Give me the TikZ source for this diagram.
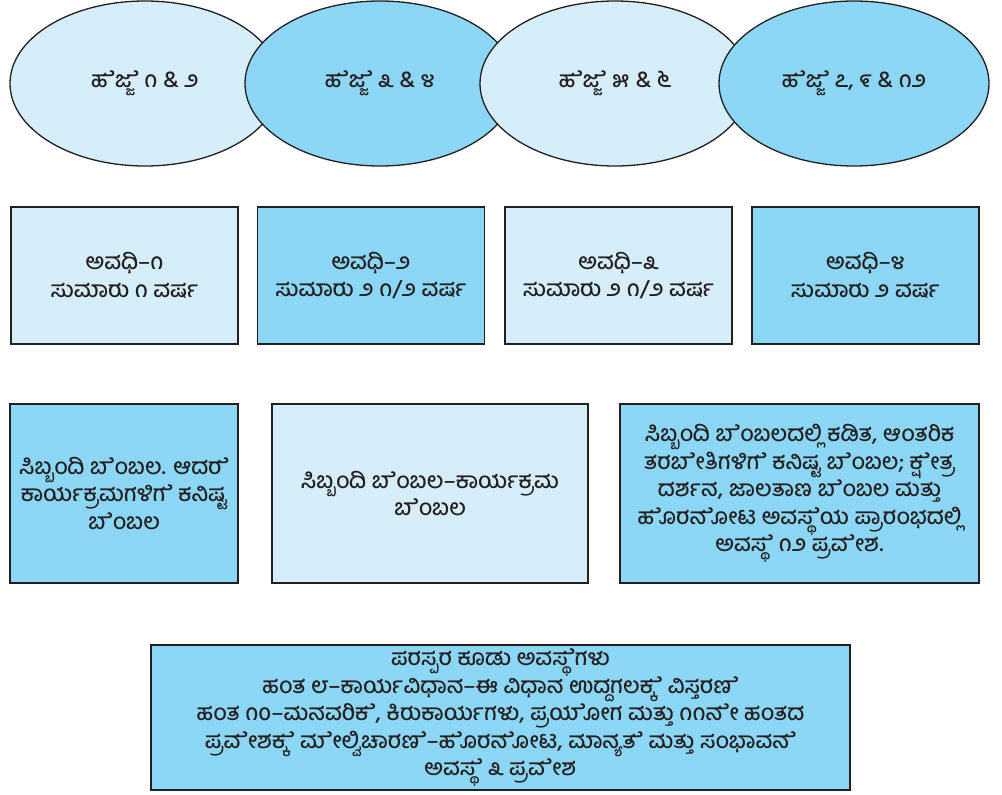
\documentclass[tikz,border=0pt]{standalone}
\usepackage{fontspec}
\newfontfamily\kn[Script=Kannada]{Hind Mysuru Medium}
\usetikzlibrary{shapes.geometric}
\definecolor{lightfill}{HTML}{D6EDFA}
\definecolor{darkfill}{HTML}{8DD7F6}
\definecolor{ink}{HTML}{231F20}
% vowel signs e / ee / o / oo written after a zero-width joiner so that the hook is drawn
\newcommand\kE{^^^^200dೆ}
\newcommand\kEE{^^^^200dೇ}
\newcommand\kO{^^^^200dೊ}
\newcommand\kOO{^^^^200dೋ}
% vowel sign after a conjunct: set on a no-break-space base, pulled back
\newcommand\kC[1]{\setbox0\hbox{^^^^00a0}\kern-\wd0\hbox{^^^^00a0#1}}
\tikzset{
  knfont/.style={font=\kn\fontsize{22.5}{27.5}\selectfont, text=ink},
  phase/.style={ellipse, draw=ink, line width=1.3pt, minimum width=270pt, minimum height=165pt, inner sep=0pt, knfont},
  card/.style={rectangle, draw=ink, line width=1.5pt, inner sep=0pt, align=center, knfont},
  period/.style={card, minimum width=227pt, minimum height=137pt},
  light/.style={fill=lightfill},
  dark/.style={fill=darkfill}
}
\begin{document}
\begin{tikzpicture}[x=1pt,y=-1pt]
\useasboundingbox (0,0) rectangle (1002,795);
\node[phase, light] (e1) at (145,83.5) {ಹ\kE ಜ್ಜ\kC{ೆ} ೧ \& ೨};
\node[phase, dark]  (e2) at (380,83.5) {ಹ\kE ಜ್ಜ\kC{ೆ} ೩ \& ೪};
\node[phase, light] (e3) at (615,83.5) {ಹ\kE ಜ್ಜ\kC{ೆ} ೫ \& ೬};
\node[phase, dark]  (e4) at (854,83.5) {ಹ\kE ಜ್ಜ\kC{ೆ} ೭, ೯ \& ೧೨};

\node[period, light] (p1) at (124.5,275.5) {ಅವಧಿ–೧\\ಸುಮಾರು ೧ ವರ್ಷ};
\node[period, dark]  (p2) at (371,275.5) {ಅವಧಿ–೨\\ಸುಮಾರು ೨ ೧/೨ ವರ್ಷ};
\node[period, light] (p3) at (618.5,275.5) {ಅವಧಿ–೩\\ಸುಮಾರು ೨ ೧/೨ ವರ್ಷ};
\node[period, dark]  (p4) at (865.5,275.5) {ಅವಧಿ–೪\\ಸುಮಾರು ೨ ವರ್ಷ};

\node[card, dark, minimum width=228pt, minimum height=179pt] (s1) at (124,493.5)
  {ಸಿಬ್ಬಂದಿ ಬ\kE ಂಬಲ. ಆದರ\kE\\ಕಾರ್ಯಕ್ರಮಗಳಿಗ\kE{} ಕನಿಷ್ಟ\\ಬ\kE ಂಬಲ};
\node[card, light, minimum width=316pt, minimum height=179pt] (s2) at (430,493.5)
  {ಸಿಬ್ಬಂದಿ ಬ\kE ಂಬಲ–ಕಾರ್ಯಕ್ರಮ\\ಬ\kE ಂಬಲ};
\node[card, dark, minimum width=359pt, minimum height=179pt] (s3) at (799.5,493.5)
  {ಸಿಬ್ಬಂದಿ ಬ\kE ಂಬಲದಲ್ಲಿ ಕಡಿತ, ಆಂತರಿಕ\\ತರಬ\kEE ತಿಗಳಿಗ\kE{} ಕನಿಷ್ಟ ಬ\kE ಂಬಲ; ಕ್ಷ\kC{ೇ}ತ್ರ\\ದರ್ಶನ, ಜಾಲತಾಣ ಬ\kE ಂಬಲ ಮತ್ತು\\ಹ\kO ರನ\kOO ಟ ಅವಸ್ಥ\kC{ೆ}ಯ ಪ್ರಾರಂಭದಲ್ಲಿ\\ಅವಸ್ಥ\kC{ೆ} ೧೨ ಪ್ರವ\kEE ಶ.};

\node[card, dark, minimum width=699pt, minimum height=145pt] (b) at (500.5,717.5)
  {ಪರಸ್ಪರ ಕೂಡು ಅವಸ್ಥ\kC{ೆ}ಗಳು\\ಹಂತ ೮–ಕಾರ್ಯವಿಧಾನ–ಈ ವಿಧಾನ ಉದ್ದಗಲಕ್ಕ\kC{ೆ} ವಿಸ್ತರಣ\kE\\ಹಂತ ೧೦–ಮನವರಿಕ\kE, ಕಿರುಕಾರ್ಯಗಳು, ಪ್ರಯ\kOO ಗ ಮತ್ತು ೧೧ನ\kEE{} ಹಂತದ\\ಪ್ರವ\kEE ಶಕ್ಕ\kC{ೆ} ಮ\kEE ಲ್ವಿಚಾರಣ\kE–ಹ\kO ರನ\kOO ಟ, ಮಾನ್ಯತ\kE{} ಮತ್ತು ಸಂಭಾವನ\kE\\ಅವಸ್ಥ\kC{ೆ} ೩ ಪ್ರವ\kEE ಶ};
\end{tikzpicture}
\end{document}
